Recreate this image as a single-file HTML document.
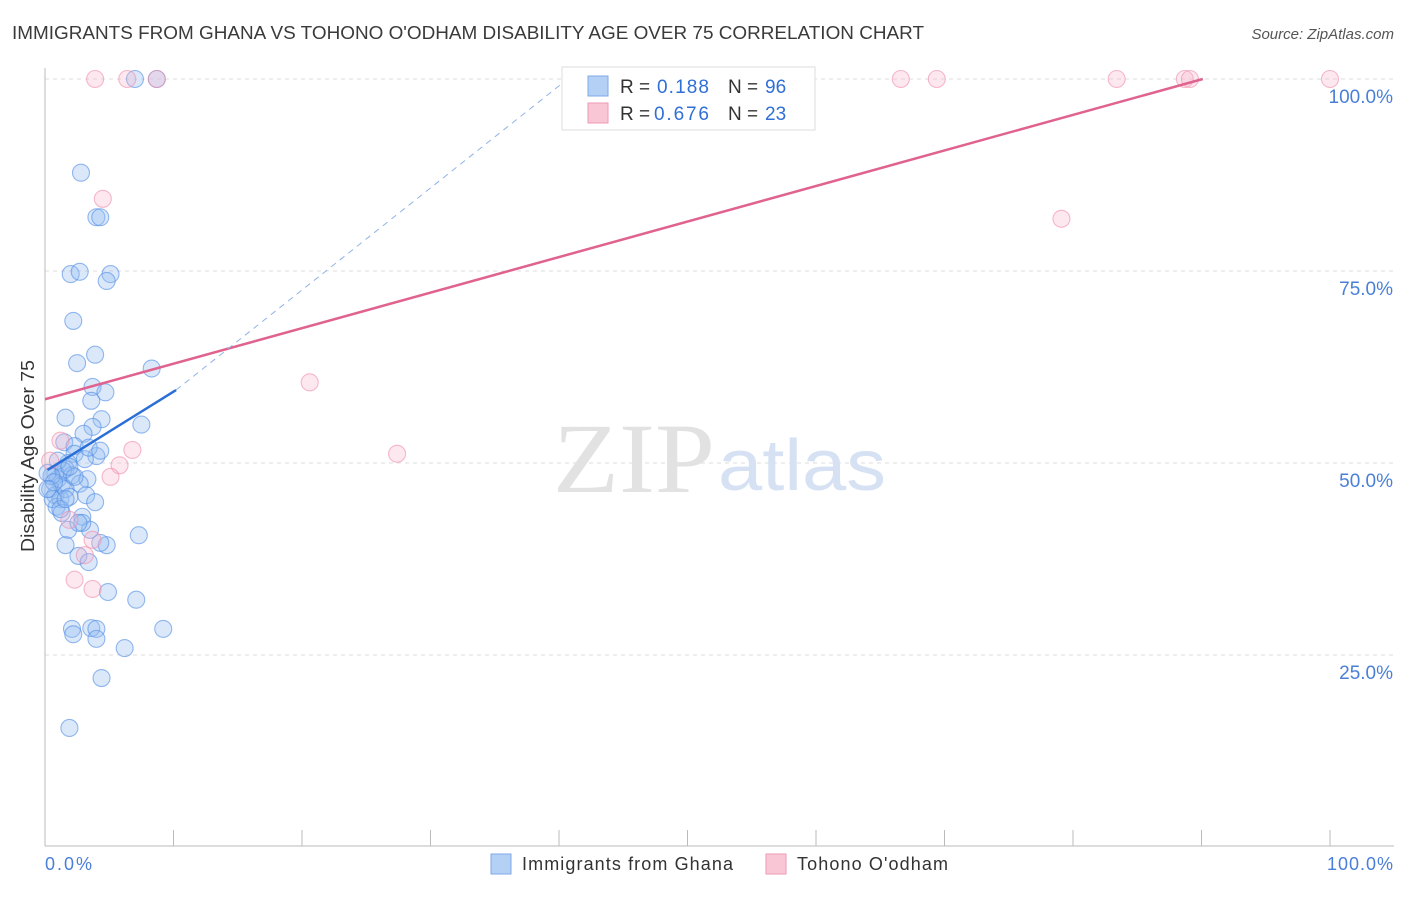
<!DOCTYPE html>
<html><head><meta charset="utf-8"><style>
body{margin:0;background:#fff;font-family:"Liberation Sans",sans-serif}
</style></head><body>
<svg width="1406" height="892">
<text x="12" y="39" font-size="18" textLength="912" lengthAdjust="spacingAndGlyphs" fill="#3a3a3a">IMMIGRANTS FROM GHANA VS TOHONO O'ODHAM DISABILITY AGE OVER 75 CORRELATION CHART</text>
<text x="1394" y="39" font-size="15" fill="#555" text-anchor="end" font-style="italic">Source: ZipAtlas.com</text>
<g id="grid"></g>
<line x1="45" y1="68" x2="45" y2="846" stroke="#bbb"/>
<line x1="45" y1="846" x2="1394" y2="846" stroke="#bbb"/>
<text x="553" y="492" font-size="100" textLength="162" lengthAdjust="spacingAndGlyphs" fill="#e2e2e2" font-family="Liberation Serif,serif">ZIP</text>
<text x="718" y="490" font-size="72" textLength="168" lengthAdjust="spacingAndGlyphs" fill="#d6e2f3">atlas</text>
<text transform="translate(34,456) rotate(-90)" font-size="18" textLength="192" lengthAdjust="spacingAndGlyphs" fill="#333" text-anchor="middle">Disability Age Over 75</text>
<text x="45" y="870" font-size="18" textLength="47" fill="#4a7fd8">0.0%</text>
<text x="1327" y="870" font-size="18" textLength="66" fill="#4a7fd8">100.0%</text>
<g id="pts"></g>
<g id="lines"></g>
<g>
<rect x="562" y="67" width="253" height="63" fill="#fff" stroke="#ddd"/>
<rect x="588" y="76" width="20" height="20" fill="#b5d0f5" stroke="#7fa8e6"/>
<rect x="588" y="103" width="20" height="20" fill="#f9c6d6" stroke="#ee9ab4"/>
<text x="620" y="93" font-size="19" fill="#333">R =</text>
<text x="657" y="93" font-size="19" fill="#2f6fd6" textLength="52">0.188</text>
<text x="728" y="93" font-size="19" fill="#333">N =</text>
<text x="765" y="93" font-size="19" fill="#2f6fd6">96</text>
<text x="620" y="120" font-size="19" fill="#333">R =</text>
<text x="654" y="120" font-size="19" fill="#2f6fd6" textLength="55">0.676</text>
<text x="728" y="120" font-size="19" fill="#333">N =</text>
<text x="765" y="120" font-size="19" fill="#2f6fd6">23</text>
</g>
<g>
<rect x="491" y="854" width="20" height="20" fill="#b5d0f5" stroke="#7fa8e6"/>
<text x="522" y="870" font-size="18" textLength="211" fill="#333">Immigrants from Ghana</text>
<rect x="766" y="854" width="20" height="20" fill="#f9c6d6" stroke="#ee9ab4"/>
<text x="797" y="870" font-size="18" textLength="151" fill="#333">Tohono O'odham</text>
</g>
</svg>
<script>
const yTicks=[25,50,75,100];
const xTicks=[0,10,20,30,40,50,60,70,80,90,100];
const blueX=[2.8,4.0,4.3,2.0,2.7,5.1,4.8,2.2,3.9,2.5,8.3,3.7,4.7,3.6,1.6,4.4,7.5,3.7,3.0,1.5,2.3,2.3,4.0,3.1,1.8,1.6,0.8,1.0,2.1,3.3,1.3,2.7,0.4,0.8,1.2,1.6,3.2,1.9,3.9,0.9,1.3,2.9,3.5,1.8,1.6,4.8,4.3,7.3,2.6,3.4,4.9,7.1,2.1,3.6,4.0,2.2,4.0,6.2,9.2,4.4,1.9,7.0,8.7,2.9,1.4,0.5,1.0,2.3,1.9,0.2,0.6,1.2,2.6,3.4,4.3,0.7,0.2,1.6];
const blueY=[87.8,82.0,82.0,74.6,74.9,74.6,73.7,68.5,64.1,63.0,62.3,59.9,59.2,58.1,55.9,55.7,55.0,54.7,53.8,52.7,52.2,51.2,50.9,50.5,50.0,49.2,48.6,47.9,48.4,47.9,47.1,47.3,46.6,45.8,45.3,46.6,45.8,45.6,44.9,44.3,43.5,43.0,41.3,41.3,39.3,39.3,39.6,40.6,37.9,37.1,33.2,32.2,28.4,28.5,28.4,27.7,27.1,25.9,28.4,22.0,15.5,100,100,42.2,49.0,48.3,50.3,48.2,49.5,48.7,45.3,44.0,42.2,52.0,51.6,47.5,46.6,45.3];
const pinkX=[3.9,6.4,8.7,66.6,69.4,83.4,88.7,89.1,100,4.5,79.1,20.6,27.4,1.2,6.8,5.8,5.1,0.4,1.9,3.7,3.1,2.3,3.7];
const pinkY=[100,100,100,100,100,100,100,100,100,84.4,81.8,60.5,51.2,52.9,51.7,49.7,48.2,50.3,42.6,40.0,38.0,34.8,33.6];
const blueTrend=[[0.2,49.1],[10.2,59.5]], blueDash=[[10.2,59.5],[40.3,99.5]];
const pinkTrend=[[0,58.3],[90.1,100]];
const NS="http://www.w3.org/2000/svg";
const X=v=>45+v*12.85, Y=v=>847-v*7.68;
const grid=document.getElementById('grid'),pts=document.getElementById('pts'),lines=document.getElementById('lines');
function mk(t,a,p){const e=document.createElementNS(NS,t);for(const k in a)e.setAttribute(k,a[k]);p.appendChild(e);return e;}
yTicks.forEach(t=>{
 const l=mk('line',{x1:45,x2:1394,y1:Y(t),y2:Y(t),stroke:'#ddd','stroke-dasharray':'4,4'},grid);
 
 
 const tx=mk('text',{x:1393,y:Y(t)+24,'font-size':19,fill:'#4a7fd8','text-anchor':'end'},grid);
 tx.textContent=t.toFixed(1)+'%';
 
 
});
xTicks.forEach(t=>{
 const l=mk('line',{x1:X(t),x2:X(t),y1:830,y2:846,stroke:'#bbb'},grid);
 
 
});
blueX.forEach((x,i)=>{
 const c=mk('circle',{cx:X(x),cy:Y(blueY[i]),r:8.5,fill:'rgba(150,188,242,0.35)',stroke:'rgba(80,140,228,0.6)','stroke-width':1.1},pts);
 
 
});
pinkX.forEach((x,i)=>{
 const c=mk('circle',{cx:X(x),cy:Y(pinkY[i]),r:8.5,fill:'rgba(248,180,202,0.3)',stroke:'rgba(238,140,172,0.6)','stroke-width':1.1},pts);
 
 
});
let l=mk('line',{x1:X(pinkTrend[0][0]),y1:Y(pinkTrend[0][1]),x2:X(pinkTrend[1][0]),y2:Y(pinkTrend[1][1]),stroke:'#e0628f','stroke-width':2.5},lines);


l=mk('line',{x1:X(blueTrend[0][0]),y1:Y(blueTrend[0][1]),x2:X(blueTrend[1][0]),y2:Y(blueTrend[1][1]),stroke:'#2a6fd8','stroke-width':2.5},lines);


l=mk('line',{x1:X(blueDash[0][0]),y1:Y(blueDash[0][1]),x2:X(blueDash[1][0]),y2:Y(blueDash[1][1]),stroke:'#8fb3e8','stroke-width':1,'stroke-dasharray':'6,5'},lines);


</script>
</body></html>
